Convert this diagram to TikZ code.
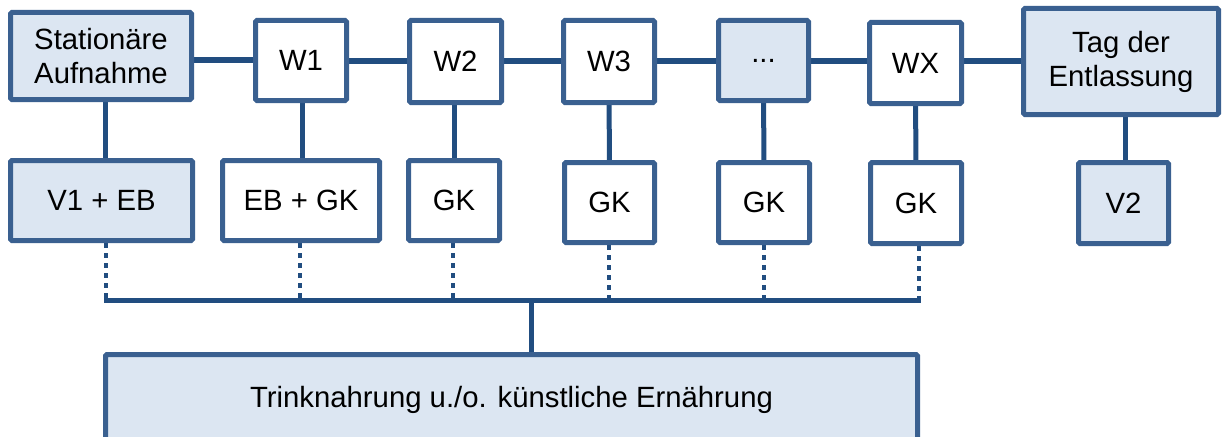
\documentclass[tikz,border=0pt]{standalone}
\usepackage{fontspec}
\setmainfont{Liberation Sans}
\usetikzlibrary{backgrounds}
\definecolor{bordercol}{HTML}{3A6090}
\definecolor{linecol}{HTML}{214D80}
\definecolor{fillcol}{HTML}{DCE6F2}
\begin{document}
\begin{tikzpicture}[x=1pt,y=-1pt,
  box/.style={draw=bordercol, line width=5pt, fill=white, rectangle, rounded corners=1.5pt, inner sep=0pt, align=center, font=\fontsize{29.3}{34}\selectfont},
  bluebox/.style={box, fill=fillcol},
  conn/.style={draw=linecol, line width=5pt},
  dotline/.style={draw=linecol, line width=4.5pt, dash pattern=on 4.5pt off 5.5pt}]
\useasboundingbox (0,0) rectangle (1222,436);
\clip (0,0) rectangle (1222,436);
% top row
\node[bluebox, minimum width=181pt, minimum height=87pt] (sa) at (101,56) {Stationäre\\Aufnahme};
\node[box, minimum width=91pt, minimum height=80pt] (w1) at (301,60.5) {W1};
\node[box, minimum width=92pt, minimum height=82pt] (w2) at (455.5,61.5) {W2};
\node[box, minimum width=91pt, minimum height=82pt] (w3) at (609,61.5) {W3};
\node[bluebox, minimum width=90pt, minimum height=80pt] (wd) at (763.5,60.5) {...};
\node[box, minimum width=92pt, minimum height=81pt] (wx) at (915.5,63) {WX};
\node[bluebox, minimum width=195pt, minimum height=106pt] (tag) at (1121,61.5) {Tag der\\Entlassung};
% second row
\node[bluebox, minimum width=182pt, minimum height=80pt] (v1) at (101.5,200.5) {V1 + EB};
\node[box, minimum width=157pt, minimum height=80pt] (ebgk) at (301,200.5) {EB + GK};
\node[box, minimum width=91pt, minimum height=80pt] (gk2) at (454,200.5) {GK};
\node[box, minimum width=90pt, minimum height=80pt] (gk3) at (609.5,202.5) {GK};
\node[box, minimum width=91pt, minimum height=80pt] (gk4) at (764,202.5) {GK};
\node[box, minimum width=91pt, minimum height=81pt] (gk5) at (916,203) {GK};
\node[bluebox, minimum width=90pt, minimum height=81pt] (v2) at (1123.5,203) {V2};
% bottom box
\node[bluebox, minimum width=812pt, minimum height=91pt] (tn) at (511.5,400) {Trinknahrung u./o. künstliche Ernährung};
\coordinate (bus) at (531,300);
\begin{pgfonlayer}{background}
  \draw[conn] (sa.east |- 0,60) -- (w1.west |- 0,60);
  \draw[conn] (w1.east |- 0,61) -- (w2.west |- 0,61);
  \draw[conn] (w2.east |- 0,61) -- (w3.west |- 0,61);
  \draw[conn] (w3.east |- 0,61) -- (wd.west |- 0,61);
  \draw[conn] (wd.east |- 0,61) -- (wx.west |- 0,61);
  \draw[conn] (wx.east |- 0,61) -- (tag.west |- 0,61);
  \draw[conn] (sa.south -| 105,0) -- (v1.north -| 105,0);
  \draw[conn] (w1.south -| 302,0) -- (ebgk.north -| 302,0);
  \draw[conn] (w2.south -| 454,0) -- (gk2.north -| 454,0);
  \draw[conn] (w3) -- (gk3);
  \draw[conn] (wd) -- (gk4);
  \draw[conn] (wx) -- (gk5);
  \draw[conn] (tag.south -| 1125,0) -- (v2.north -| 1125,0);
  \draw[dotline] (v1.south -| 106,0) -- (bus -| 106,0);
  \draw[dotline] (ebgk.south -| 300,0) -- (bus -| 300,0);
  \draw[dotline] (gk2.south -| 453,0) -- (bus -| 453,0);
  \draw[dotline] (gk3.south -| 609,0) -- (bus -| 609,0);
  \draw[dotline] (gk4.south -| 764,0) -- (bus -| 764,0);
  \draw[dotline] (gk5.south -| 919,0) -- (bus -| 919,0);
  \draw[conn] (bus -| 104,0) -- (bus -| 921,0);
  \draw[conn] (bus) -- (bus |- tn.north);
\end{pgfonlayer}
\end{tikzpicture}
\end{document}
